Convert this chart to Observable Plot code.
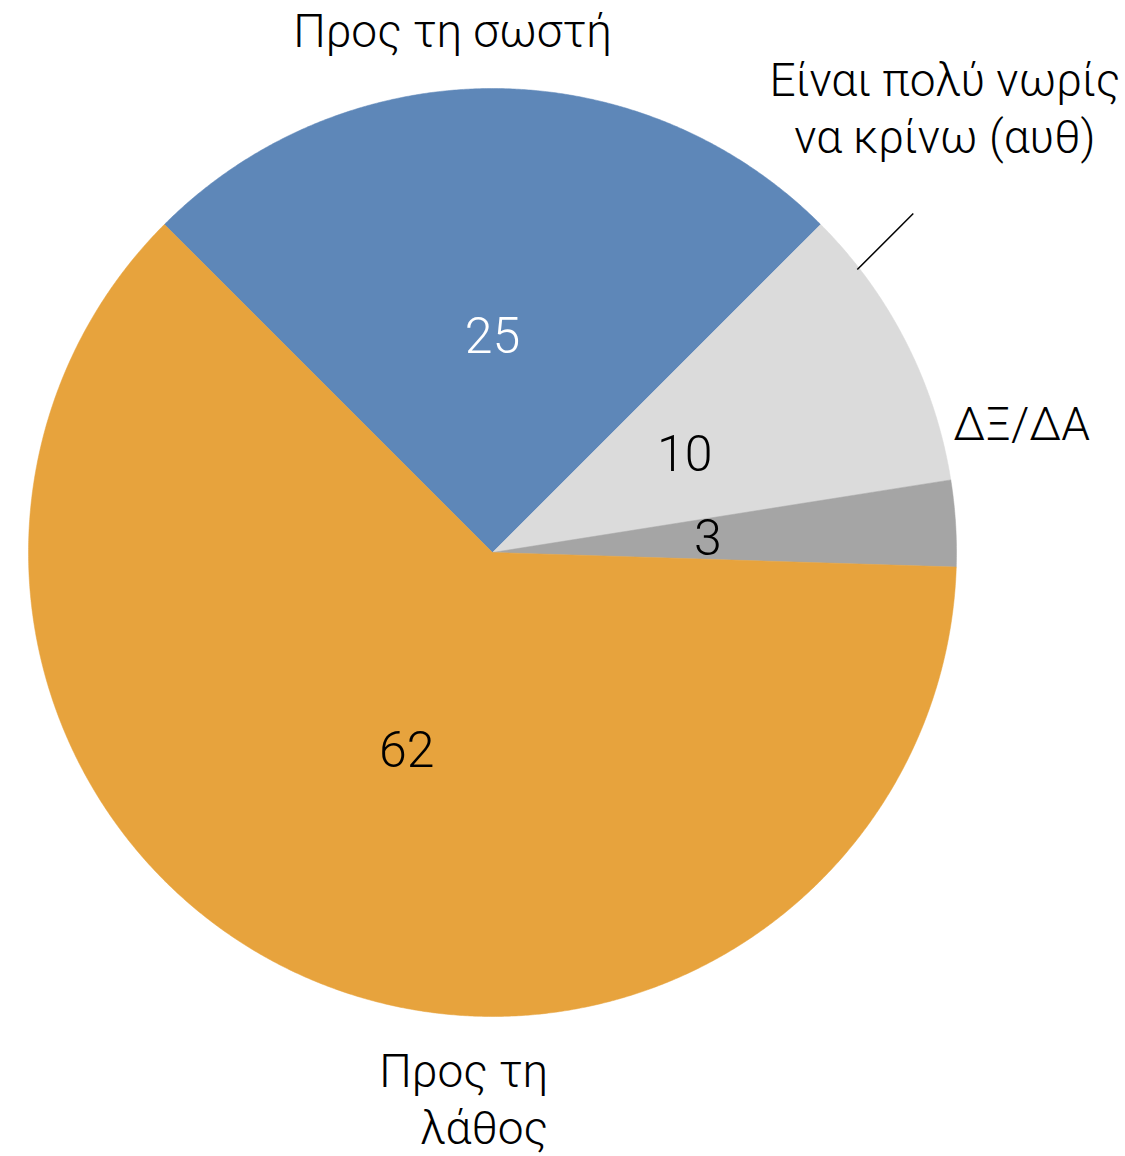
<!DOCTYPE html>
<html>
<head>
<meta charset="utf-8">
<script src="https://cdn.jsdelivr.net/npm/d3@7"></script>
<script src="https://cdn.jsdelivr.net/npm/@observablehq/plot@0.6"></script>
<style>
  html, body { margin: 0; padding: 0; background: #ffffff; }
  #chart svg { display: block; }
</style>
</head>
<body>
<div id="chart"></div>
<script>
// ---- data ----
const categories = ["Προς τη σωστή", "Είναι πολύ νωρίς να κρίνω (αυθ)", "ΔΞ/ΔΑ", "Προς τη λάθος"];
const labelText = ["Προς τη σωστή", "Είναι πολύ νωρίς\nνα κρίνω (αυθ)", "ΔΞ/ΔΑ", "Προς τη\nλάθος"];
const values = [25, 10, 3, 62];
const sliceColors = ["#5E87B8", "#DBDBDB", "#A5A5A5", "#E7A33D"];
const valueTextColors = ["#ffffff", "#000000", "#000000", "#000000"];

// ---- layout ----
const W = 1125, H = 1156;
const CX = 492, CY = 552, RPX = 464;       // pie centre & radius in px
const labelOffsetsPx = [[-40, -60], [39, -236], [66, -102], [240, 119]];
const labelAnchors = ["middle", "middle", "middle", "end"];
const FONT = "Roboto, 'Helvetica Neue', Arial, sans-serif";

const arcs = d3.pie().sort(null).startAngle(-Math.PI / 4).endAngle(2 * Math.PI - Math.PI / 4)(values);
const polar = (a, r) => [r * Math.sin(a), r * Math.cos(a)];

// slice outlines
const slicePts = [];
arcs.forEach((arc, i) => {
  const n = Math.max(8, Math.ceil((arc.endAngle - arc.startAngle) / 0.005));
  slicePts.push({k: categories[i], x: 0, y: 0, c: sliceColors[i]});
  for (let j = 0; j <= n; j++) {
    const a = arc.startAngle + (arc.endAngle - arc.startAngle) * j / n;
    const [x, y] = polar(a, 1);
    slicePts.push({k: categories[i], x, y, c: sliceColors[i]});
  }
  slicePts.push({k: categories[i], x: 0, y: 0, c: sliceColors[i]});
});

const valueLabels = arcs.map((arc, i) => {
  const m = (arc.startAngle + arc.endAngle) / 2;
  const [x, y] = polar(m, 0.465);
  return {x, y, t: String(values[i]), c: valueTextColors[i]};
});

const catLabels = arcs.map((arc, i) => {
  const m = (arc.startAngle + arc.endAngle) / 2;
  const [x, y] = polar(m, 1);
  return {x: x + labelOffsetsPx[i][0] / RPX, y: y - labelOffsetsPx[i][1] / RPX, t: labelText[i], anchor: labelAnchors[i]};
});

// leader line for the light-grey slice
const lg = arcs[1];
const [lx1, ly1] = polar(lg.startAngle + 0.2 * (lg.endAngle - lg.startAngle), 0.995);
const leader = [{x1: lx1, y1: ly1, x2: lx1 + 56 / RPX, y2: ly1 + 56 / RPX}];

const chart = Plot.plot({
  width: W,
  height: H,
  margin: 0,
  style: {background: "#ffffff", fontFamily: FONT},
  x: {domain: [-CX / RPX, (W - CX) / RPX], range: [0, W], axis: null},
  y: {domain: [-(H - CY) / RPX, CY / RPX], range: [H, 0], axis: null},
  marks: [
    Plot.line(slicePts, {x: "x", y: "y", z: "k", fill: "c", stroke: "c", strokeWidth: 0.5, curve: "linear"}),
    Plot.link(leader, {x1: "x1", y1: "y1", x2: "x2", y2: "y2", stroke: "#000000", strokeWidth: 1.5}),
    Plot.text(valueLabels, {x: "x", y: "y", text: "t", fill: "c", fontSize: 50, fontWeight: 300}),
    Plot.text(catLabels.filter(d => d.anchor === "middle"), {x: "x", y: "y", text: "t", fill: "#000000", fontSize: 46, fontWeight: 300, lineHeight: 1.25, textAnchor: "middle"}),
    Plot.text(catLabels.filter(d => d.anchor === "end"), {x: "x", y: "y", text: "t", fill: "#000000", fontSize: 46, fontWeight: 300, lineHeight: 1.25, textAnchor: "end"})
  ]
});
document.getElementById("chart").appendChild(chart);
</script>
</body>
</html>
